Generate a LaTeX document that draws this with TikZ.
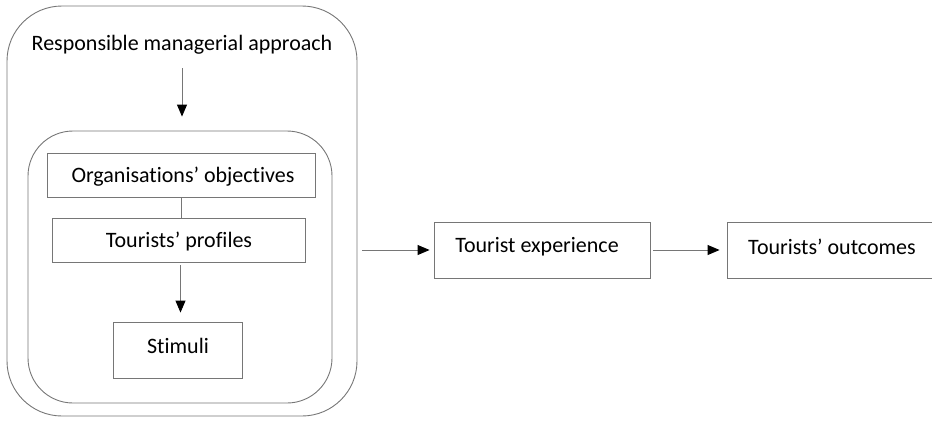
\documentclass[tikz,border=0pt]{standalone}
\usepackage{fontspec}
\setmainfont[Ligatures=NoCommon]{Carlito}
\usetikzlibrary{arrows.meta}
\definecolor{edge}{RGB}{118,118,118}
\begin{document}
\begin{tikzpicture}[x=1pt,y=-1pt,
  every node/.style={font=\fontsize{22}{26}\selectfont, text=black},
  roundbox/.style={draw=edge, line width=0.9pt, rectangle, inner sep=0pt},
  plainbox/.style={draw=edge, line width=0.9pt, rectangle, inner sep=0pt},
  label/.style={inner sep=0pt, anchor=center},
  arr/.style={draw=edge, line width=0.9pt, -{Triangle[length=12pt,width=10pt,black]}},
  link/.style={draw=edge, line width=0.9pt}]
\useasboundingbox (0,0) rectangle (932,421);
\clip (0,0) rectangle (932,421);

% outer and inner frames
\node[roundbox, rounded corners=55pt, minimum width=350pt, minimum height=410pt] (outer) at (182,211) {};
\node[roundbox, rounded corners=45pt, minimum width=304pt, minimum height=272pt] (inner) at (180,267) {};

\node[label, minimum width=10pt, minimum height=24pt] (title) at (182,45) {Responsible managerial approach};

% boxes inside the inner frame
\node[plainbox, minimum width=268pt, minimum height=44pt] (org) at (181,175) {};
\node[label] at (183,177) {Organisations’ objectives};
\node[plainbox, minimum width=253pt, minimum height=44pt] (prof) at (178.5,240) {};
\node[label] at (179,242) {Tourists’ profiles};
\node[plainbox, minimum width=129pt, minimum height=56pt] (stim) at (177.5,350) {};
\node[label] at (178,346) {Stimuli};

% chain on the right
\node[plainbox, minimum width=216pt, minimum height=56pt] (te) at (542,250) {};
\node[label] at (537,247) {Tourist experience};
\node[plainbox, minimum width=230pt, minimum height=56pt] (to) at (842,250) {};
\node[label] at (832,247) {Tourists’ outcomes};

% connectors
\draw[arr] ([yshift=-11pt]title.south) -- ([yshift=14pt]title.south |- inner.north);
\draw[link] (org.south) -- (prof.north -| org.south);
\draw[arr] ([xshift=2pt,yshift=-3pt]prof.south) -- ([xshift=2pt,yshift=9pt]prof.south |- stim.north);
\draw[arr] ([xshift=5pt]outer.east |- te.west) -- ([xshift=-4pt]te.west);
\draw[arr] ([xshift=3pt]te.east) -- ([xshift=-7pt]to.west);
\end{tikzpicture}
\end{document}
